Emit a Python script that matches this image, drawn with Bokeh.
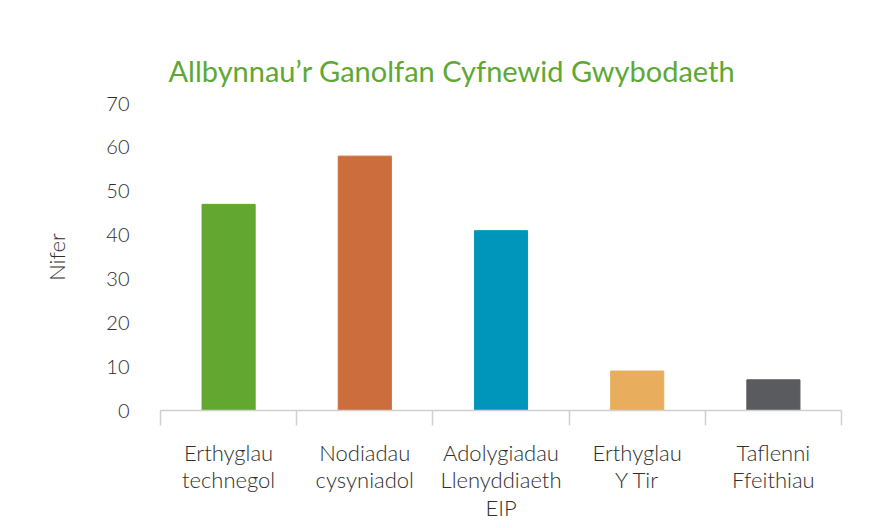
from bokeh.plotting import figure
from bokeh.models import Range1d, FixedTicker
from bokeh.embed import file_html
from bokeh.resources import INLINE

categories = ["Erthyglau\ntechnegol", "Nodiadau\ncysyniadol", "Adolygiadau\nLlenyddiaeth\nEIP",
              "Erthyglau\nY Tir", "Taflenni\nFfeithiau"]
values = [47, 58, 41, 9, 7]
colors = ["#62a830", "#cb6d3c", "#0096bb", "#e8ae5e", "#5a5b5f"]
y_ticks = [0, 10, 20, 30, 40, 50, 60, 70]

n = len(categories)
centers = [i + 0.5 for i in range(n)]
bounds = [float(i) for i in range(n + 1)]

FONT = "'Lato Light', Lato"
TXT = "#2e2e2e"

p = figure(width=892, height=528, output_backend="svg", toolbar_location=None,
           x_range=Range1d(0, n), y_range=Range1d(0, 70),
           min_border_left=160, min_border_right=51, min_border_top=103, min_border_bottom=118)
p.outline_line_color = None
p.grid.visible = False
p.background_fill_color = "white"
p.border_fill_color = "white"

p.vbar(x=centers, top=values, width=0.39, color=colors)

# x axis
xa = p.xaxis[0]
xa.ticker = FixedTicker(ticks=centers, minor_ticks=bounds)
xa.major_label_overrides = {c: lab for c, lab in zip(centers, categories)}
xa.axis_line_color = "#d0d0d0"
xa.axis_line_width = 1.5
xa.major_tick_line_color = None
xa.major_tick_out = 0
xa.major_tick_in = 0
xa.minor_tick_line_color = "#d0d0d0"
xa.minor_tick_line_width = 1.5
xa.minor_tick_out = 15
xa.minor_tick_in = 0
xa.major_label_standoff = 13
xa.major_label_text_font = FONT
xa.major_label_text_font_size = "22px"
xa.major_label_text_color = TXT
xa.major_label_text_line_height = 1.02

# y axis
ya = p.yaxis[0]
ya.ticker = FixedTicker(ticks=y_ticks)
ya.axis_line_color = None
ya.major_tick_line_color = None
ya.minor_tick_line_color = None
ya.major_tick_out = 0
ya.major_tick_in = 0
ya.major_label_standoff = 31
ya.major_label_text_font = FONT
ya.major_label_text_font_size = "20px"
ya.major_label_text_color = TXT
ya.axis_label = "Nifer"
ya.axis_label_text_font = FONT
ya.axis_label_text_font_size = "22px"
ya.axis_label_text_font_style = "normal"
ya.axis_label_text_color = TXT
ya.axis_label_standoff = 33

p.title.text = "Allbynnau\u2019r Ganolfan Cyfnewid Gwybodaeth"
p.title.text_font = "Lato"
p.title.text_font_size = "29px"
p.title.text_font_style = "normal"
p.title.text_color = "#5ea834"
p.title.align = "left"
p.title.offset = 8
p.title.standoff = 32

open("out.html", "w").write(file_html(p, INLINE))
